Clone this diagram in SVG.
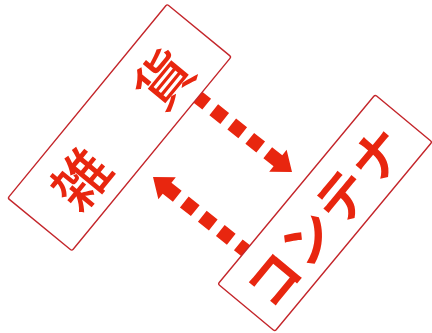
<svg xmlns="http://www.w3.org/2000/svg" width="432" height="333" viewBox="0 0 432 333">
<style>
.box{fill:#fff;stroke:#c4262b;stroke-width:1.4}
.lbl{fill:#e8260f;font-family:"Noto Sans CJK JP","Noto Sans CJK SC",sans-serif;text-anchor:middle;dominant-baseline:central}
.dash{stroke:#e8260f;stroke-width:14;stroke-dasharray:14 9;fill:none}
.head{fill:#e8260f}
</style>
<defs>
<g id="arrow">
<polygon class="head" points="0,0 -18,-14 -18,-7 -31,-7 -31,7 -18,7 -18,14"/>
<line class="dash" x1="-40" y1="0" x2="-175" y2="0"/>
</g>
</defs>
<g id="connectors">
<use href="#arrow" transform="translate(292,172) rotate(38.5)"/>
<use href="#arrow" transform="translate(153,177) rotate(218.5)"/>
</g>
<g id="zakka" transform="translate(119.5,127.5) rotate(-50.6)">
<rect class="box" x="-125.5" y="-41.5" width="251" height="83" rx="2"/>
<text class="lbl" x="-64" y="0" font-size="56" font-weight="500">雑</text>
<text class="lbl" x="66" y="0" font-size="56" font-weight="500">貨</text>
</g>
<g id="container" transform="translate(325,213) rotate(-50.3)">
<rect class="box" x="-123" y="-37" width="246" height="74" rx="2"/>
<text class="lbl" x="-84" y="0" font-size="52" font-weight="bold">コ</text>
<text class="lbl" x="-30" y="0" font-size="52" font-weight="bold">ン</text>
<text class="lbl" x="24" y="0" font-size="52" font-weight="bold">テ</text>
<text class="lbl" x="78" y="0" font-size="52" font-weight="bold">ナ</text>
</g>
</svg>
